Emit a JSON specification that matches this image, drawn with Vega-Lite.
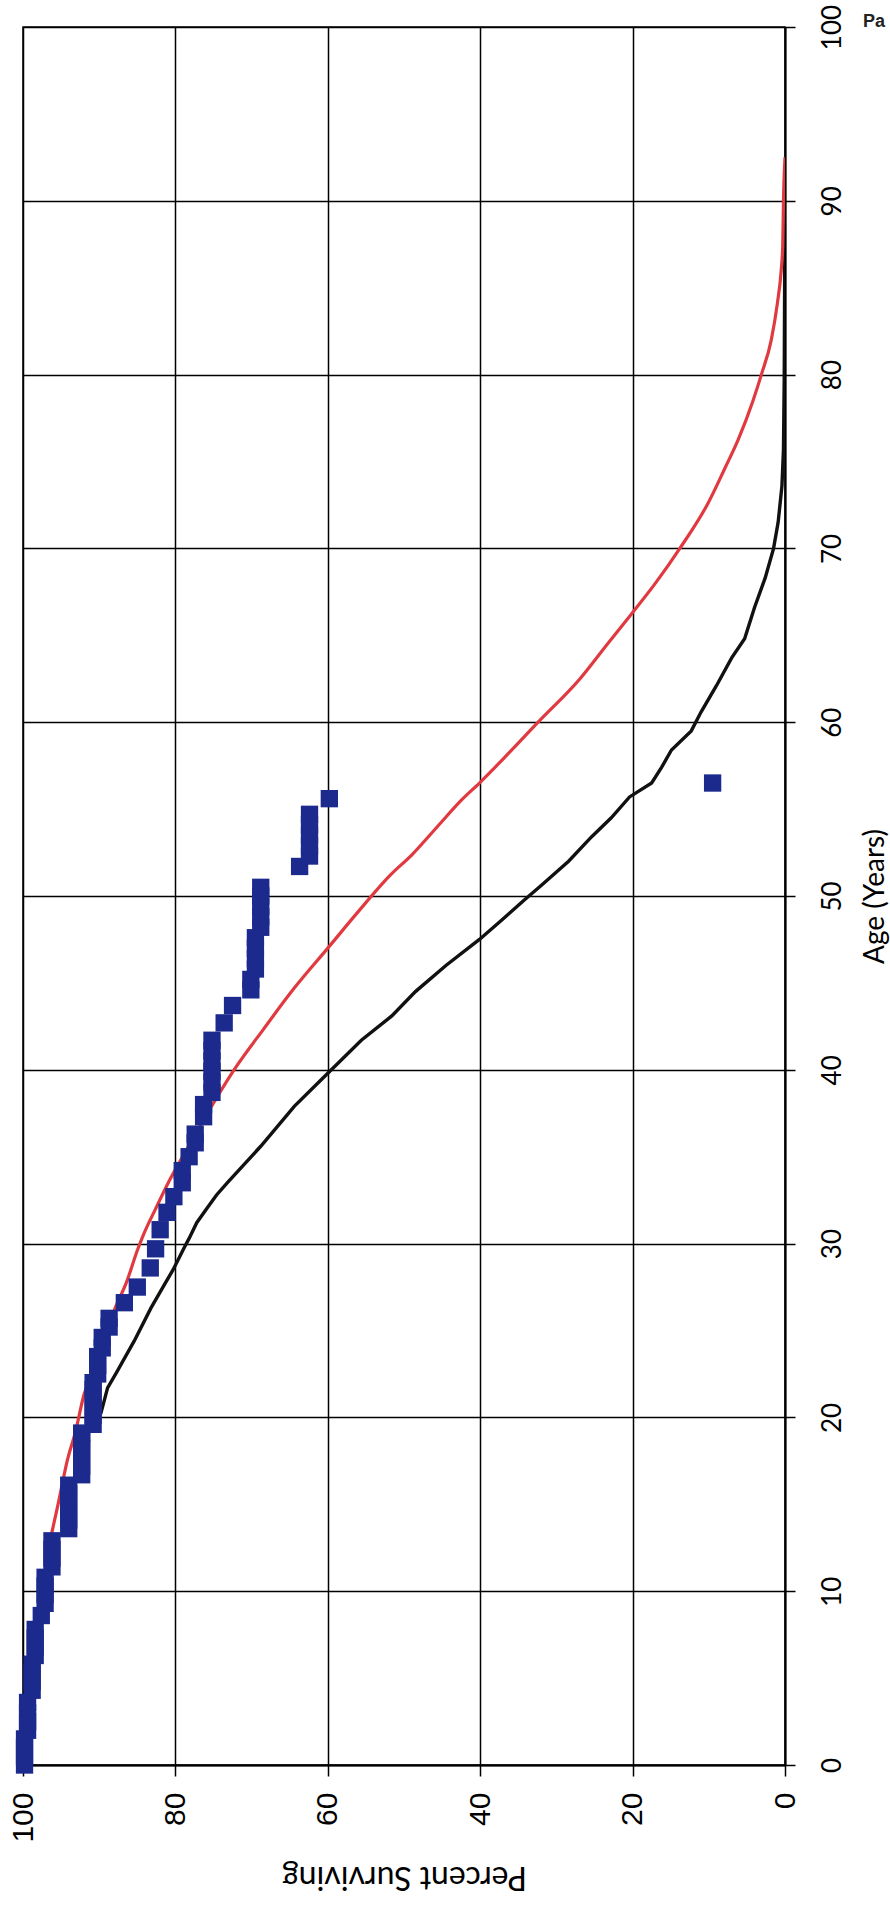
{
  "$schema": "https://vega.github.io/schema/vega-lite/v6.json",
  "width": 762,
  "height": 1738,
  "autosize": {"type": "none"},
  "padding": {"left": 23, "top": 27, "right": 105, "bottom": 147},
  "background": "white",
  "config": {"view": {"stroke": "black", "strokeWidth": 1.5}},
  "title": {"text": "Pa", "anchor": "end", "frame": "group", "orient": "top", "dx": 100, "dy": 31, "offset": 4, "fontSize": 18, "font": "Liberation Sans", "fontWeight": "bold", "color": "#222222"},
  "datasets": {
    "observed": [
      {"age": 0, "pct": 99.8}, {"age": 0.5, "pct": 99.8}, {"age": 1, "pct": 99.8}, {"age": 1.5, "pct": 99.8},
      {"age": 2, "pct": 99.4}, {"age": 2.5, "pct": 99.4}, {"age": 3, "pct": 99.4}, {"age": 3.6, "pct": 99.4},
      {"age": 4.3, "pct": 98.8}, {"age": 4.8, "pct": 98.8}, {"age": 5.3, "pct": 98.8}, {"age": 5.8, "pct": 98.8},
      {"age": 6.3, "pct": 98.4}, {"age": 6.8, "pct": 98.4}, {"age": 7.3, "pct": 98.4}, {"age": 7.8, "pct": 98.4},
      {"age": 8.6, "pct": 97.6},
      {"age": 9.3, "pct": 97.1}, {"age": 9.8, "pct": 97.1}, {"age": 10.3, "pct": 97.1}, {"age": 10.8, "pct": 97.1},
      {"age": 11.4, "pct": 96.2}, {"age": 11.9, "pct": 96.2}, {"age": 12.4, "pct": 96.2}, {"age": 12.9, "pct": 96.2},
      {"age": 13.6, "pct": 94.0}, {"age": 14.1, "pct": 94.0}, {"age": 14.6, "pct": 94.0}, {"age": 15.1, "pct": 94.0}, {"age": 15.6, "pct": 94.0}, {"age": 16.1, "pct": 94.0},
      {"age": 16.7, "pct": 92.3}, {"age": 17.2, "pct": 92.3}, {"age": 17.7, "pct": 92.3}, {"age": 18.2, "pct": 92.3}, {"age": 18.7, "pct": 92.3}, {"age": 19.1, "pct": 92.3},
      {"age": 19.6, "pct": 90.8}, {"age": 20.1, "pct": 90.8}, {"age": 20.6, "pct": 90.8}, {"age": 21.1, "pct": 90.8}, {"age": 21.6, "pct": 90.8}, {"age": 22.0, "pct": 90.8},
      {"age": 22.5, "pct": 90.2}, {"age": 23.0, "pct": 90.2}, {"age": 23.5, "pct": 90.2},
      {"age": 24.0, "pct": 89.6}, {"age": 24.6, "pct": 89.6},
      {"age": 25.2, "pct": 88.7}, {"age": 25.7, "pct": 88.7},
      {"age": 26.6, "pct": 86.7}, {"age": 27.5, "pct": 85.0}, {"age": 28.6, "pct": 83.3}, {"age": 29.7, "pct": 82.6},
      {"age": 30.8, "pct": 82.0}, {"age": 31.8, "pct": 81.1}, {"age": 32.7, "pct": 80.2}, {"age": 33.5, "pct": 79.1}, {"age": 34.2, "pct": 79.1},
      {"age": 35.0, "pct": 78.2}, {"age": 35.8, "pct": 77.4}, {"age": 36.3, "pct": 77.4}, {"age": 37.3, "pct": 76.3}, {"age": 38.0, "pct": 76.3},
      {"age": 38.7, "pct": 75.2}, {"age": 39.3, "pct": 75.2}, {"age": 39.9, "pct": 75.2}, {"age": 40.5, "pct": 75.2}, {"age": 41.1, "pct": 75.2}, {"age": 41.7, "pct": 75.2},
      {"age": 42.7, "pct": 73.6}, {"age": 43.7, "pct": 72.5},
      {"age": 44.6, "pct": 70.1}, {"age": 45.2, "pct": 70.1},
      {"age": 45.8, "pct": 69.5}, {"age": 46.4, "pct": 69.5}, {"age": 47.0, "pct": 69.5}, {"age": 47.6, "pct": 69.5},
      {"age": 48.2, "pct": 68.8}, {"age": 48.8, "pct": 68.8}, {"age": 49.4, "pct": 68.8}, {"age": 50.0, "pct": 68.8}, {"age": 50.5, "pct": 68.8},
      {"age": 51.7, "pct": 63.7},
      {"age": 52.3, "pct": 62.4}, {"age": 52.9, "pct": 62.4}, {"age": 53.5, "pct": 62.4}, {"age": 54.1, "pct": 62.4}, {"age": 54.7, "pct": 62.4},
      {"age": 55.6, "pct": 59.8},
      {"age": 56.5, "pct": 9.5}
    ],
    "model": [
      {"age": 13.2, "pct": 96.3}, {"age": 15.2, "pct": 95.3}, {"age": 17.5, "pct": 94.2}, {"age": 19.2, "pct": 93.1},
      {"age": 21.3, "pct": 92.0}, {"age": 22.8, "pct": 90.7}, {"age": 24.6, "pct": 89.4}, {"age": 26.3, "pct": 87.9},
      {"age": 27.8, "pct": 86.4}, {"age": 29.6, "pct": 85.0}, {"age": 30.5, "pct": 84.2}, {"age": 32.0, "pct": 82.6},
      {"age": 33.7, "pct": 80.7}, {"age": 35.5, "pct": 78.4}, {"age": 37.5, "pct": 75.8}, {"age": 40.0, "pct": 72.3},
      {"age": 42.3, "pct": 68.5}, {"age": 44.7, "pct": 64.4}, {"age": 47.0, "pct": 60.0}, {"age": 49.0, "pct": 56.2},
      {"age": 51.2, "pct": 51.8}, {"age": 52.4, "pct": 48.9}, {"age": 54.0, "pct": 45.6}, {"age": 55.5, "pct": 42.5},
      {"age": 56.5, "pct": 40.1}, {"age": 58.2, "pct": 36.3}, {"age": 60.0, "pct": 32.4}, {"age": 62.5, "pct": 26.9},
      {"age": 64.5, "pct": 23.3}, {"age": 66.2, "pct": 20.2}, {"age": 68.0, "pct": 17.0}, {"age": 70.0, "pct": 13.8},
      {"age": 72.6, "pct": 10.1}, {"age": 74.6, "pct": 7.9}, {"age": 76.3, "pct": 6.1}, {"age": 78.5, "pct": 4.2},
      {"age": 80.0, "pct": 3.1}, {"age": 82.0, "pct": 1.8}, {"age": 84.1, "pct": 1.0}, {"age": 86.0, "pct": 0.5},
      {"age": 87.4, "pct": 0.3}, {"age": 90.0, "pct": 0.2}, {"age": 92.5, "pct": 0.0}
    ],
    "lifeTable": [
      {"age": 20.2, "pct": 89.8}, {"age": 21.7, "pct": 88.9}, {"age": 22.6, "pct": 87.7}, {"age": 24.4, "pct": 85.4},
      {"age": 26.3, "pct": 83.2}, {"age": 27.6, "pct": 81.5}, {"age": 28.5, "pct": 80.3}, {"age": 29.8, "pct": 78.8},
      {"age": 30.3, "pct": 78.2}, {"age": 31.2, "pct": 77.2}, {"age": 32.0, "pct": 75.9}, {"age": 32.8, "pct": 74.6},
      {"age": 33.5, "pct": 73.2}, {"age": 35.6, "pct": 68.8},
      {"age": 37.9, "pct": 64.4}, {"age": 39.8, "pct": 60.0}, {"age": 41.7, "pct": 55.6}, {"age": 43.1, "pct": 51.6},
      {"age": 44.5, "pct": 48.5}, {"age": 46.0, "pct": 44.5}, {"age": 47.5, "pct": 40.1}, {"age": 48.6, "pct": 37.2},
      {"age": 49.7, "pct": 34.4}, {"age": 50.6, "pct": 32.0}, {"age": 52.0, "pct": 28.4}, {"age": 53.4, "pct": 25.4},
      {"age": 54.5, "pct": 22.8}, {"age": 55.7, "pct": 20.4}, {"age": 56.5, "pct": 17.5}, {"age": 57.4, "pct": 16.2},
      {"age": 58.4, "pct": 14.9}, {"age": 59.5, "pct": 12.3}, {"age": 60.6, "pct": 11.0}, {"age": 62.1, "pct": 9.0},
      {"age": 63.7, "pct": 7.0}, {"age": 64.8, "pct": 5.3}, {"age": 66.6, "pct": 4.0}, {"age": 68.3, "pct": 2.6},
      {"age": 70.0, "pct": 1.5}, {"age": 71.5, "pct": 0.9}, {"age": 73.6, "pct": 0.4}, {"age": 75.7, "pct": 0.2},
      {"age": 79.8, "pct": 0.1}, {"age": 85.0, "pct": 0.05}, {"age": 89.5, "pct": 0.0}
    ]
  },
  "encoding": {
    "x": {
      "field": "pct", "type": "quantitative",
      "scale": {"domain": [0, 100], "reverse": true, "nice": false, "zero": false},
      "axis": {
        "orient": "bottom", "values": [0, 20, 40, 60, 80, 100],
        "title": "Percent Surviving", "titleAngle": 180, "titleBaseline": "alphabetic",
        "titleFont": "Lato", "titleFontSize": 32, "titleFontWeight": "normal", "titleColor": "black", "titlePadding": 24,
        "labelAngle": -90, "labelAlign": "right", "labelBaseline": "middle",
        "labelFont": "Liberation Sans", "labelFontSize": 30, "labelColor": "black", "labelPadding": 16,
        "tickSize": 11, "tickColor": "black", "tickWidth": 1.5,
        "domainColor": "black", "domainWidth": 2,
        "grid": true, "gridColor": "black", "gridWidth": 1.5, "gridOpacity": 1
      }
    },
    "y": {
      "field": "age", "type": "quantitative",
      "scale": {"domain": [0, 100], "nice": false},
      "axis": {
        "orient": "right", "values": [0, 10, 20, 30, 40, 50, 60, 70, 80, 90, 100],
        "title": "Age (Years)", "titleAngle": -90, "titleBaseline": "top",
        "titleFont": "Lato", "titleFontSize": 28, "titleFontWeight": "normal", "titleColor": "black", "titlePadding": 16,
        "labelAngle": -90, "labelAlign": "center", "labelBaseline": "top",
        "labelFont": "Lato", "labelFontSize": 26, "labelColor": "black", "labelPadding": 24,
        "tickSize": 10, "tickColor": "black", "tickWidth": 1.5,
        "domainColor": "black", "domainWidth": 2,
        "grid": true, "gridColor": "black", "gridWidth": 1.5, "gridOpacity": 1
      }
    }
  },
  "layer": [
    {
      "data": {"name": "lifeTable"},
      "mark": {"type": "line", "color": "#111111", "strokeWidth": 3.4, "clip": true},
      "encoding": {"order": {"field": "age", "type": "quantitative"}}
    },
    {
      "data": {"name": "model"},
      "mark": {"type": "line", "color": "#e03a40", "strokeWidth": 3.2, "interpolate": "monotone", "clip": true},
      "encoding": {"order": {"field": "age", "type": "quantitative"}}
    },
    {
      "data": {"name": "observed"},
      "mark": {"type": "square", "filled": true, "color": "#1c2a8e", "opacity": 1, "size": 300},
      "encoding": {}
    }
  ]
}
